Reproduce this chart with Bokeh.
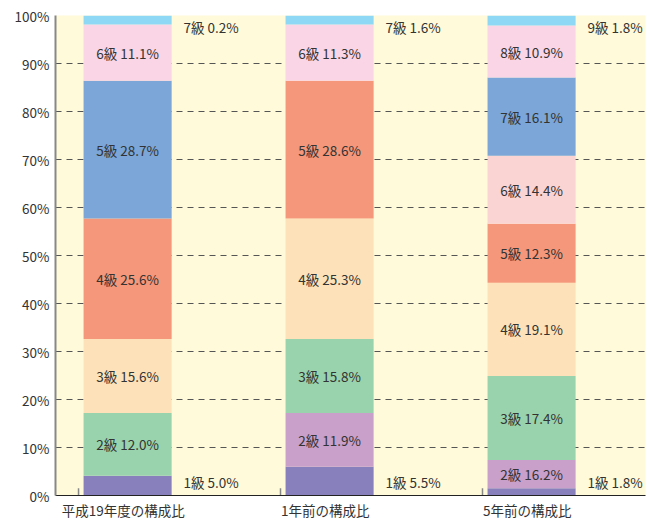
import numpy as np
from bokeh.plotting import figure
from bokeh.models import ColumnDataSource, FixedTicker, PrintfTickFormatter, Range1d
from bokeh.core.properties import value
from bokeh.embed import file_html
from bokeh.resources import INLINE

# ---- data ----
categories = ["平成19年度の構成比", "1年前の構成比", "5年前の構成比"]

grades1 = ["1級", "2級", "3級", "4級", "5級", "6級", "7級"]
labels1 = [5.0, 12.0, 15.6, 25.6, 28.7, 11.1, 0.2]
heights1 = [4.1, 13.1, 15.4, 25.1, 28.7, 11.7, 1.9]

grades2 = ["1級", "2級", "3級", "4級", "5級", "6級", "7級"]
labels2 = [5.5, 11.9, 15.8, 25.3, 28.6, 11.3, 1.6]
heights2 = [6.0, 11.2, 15.4, 25.1, 28.7, 11.7, 1.9]

grades3 = ["1級", "2級", "3級", "4級", "5級", "6級", "7級", "8級", "9級"]
labels3 = [1.8, 16.2, 17.4, 19.1, 12.3, 14.4, 16.1, 10.9, 1.8]
heights3 = [1.5, 5.9, 17.5, 19.4, 12.3, 14.2, 16.3, 10.8, 2.1]

C_DPURPLE = "#8880bc"
C_PURPLE = "#c8a0ca"
C_GREEN = "#99d3ad"
C_PEACH = "#fde2b9"
C_ORANGE = "#f5977a"
C_BLUE = "#7ba6d7"
C_PINK = "#f9d5e5"
C_LPINK = "#fad3d3"
C_CYAN = "#8ed8f6"

colors1 = [C_DPURPLE, C_GREEN, C_PEACH, C_ORANGE, C_BLUE, C_PINK, C_CYAN]
colors2 = [C_DPURPLE, C_PURPLE, C_GREEN, C_PEACH, C_ORANGE, C_PINK, C_CYAN]
colors3 = [C_DPURPLE, C_PURPLE, C_GREEN, C_PEACH, C_ORANGE, C_LPINK, C_BLUE, C_PINK, C_CYAN]

bars = [(grades1, labels1, heights1, colors1),
        (grades2, labels2, heights2, colors2),
        (grades3, labels3, heights3, colors3)]

FONT = value("Noto Sans CJK JP")
TXT = "#333333"

# frame: x from 55 to 645 px, y from 15 to 500 px
p = figure(width=650, height=522, output_backend="svg", toolbar_location=None,
           x_range=Range1d(-0.114, 2.807), y_range=Range1d(0, 100),
           min_border_left=55, min_border_right=5, min_border_top=15, min_border_bottom=22)
p.background_fill_color = "#fffad9"
p.border_fill_color = "white"
p.outline_line_color = None

p.xgrid.grid_line_color = None
p.ygrid.ticker = FixedTicker(ticks=list(range(0, 101, 10)))
p.ygrid.grid_line_color = "#555555"
p.ygrid.grid_line_dash = "6 5"
p.ygrid.grid_line_width = 1

bar_off = 0.243
bar_w = 0.436
for i, (g, lab, h, col) in enumerate(bars):
    h = np.array(h, dtype=float)
    top = np.cumsum(h)
    bottom = top - h
    n = len(h)
    src = ColumnDataSource(dict(x=[i + bar_off] * n, bottom=bottom, top=top, color=col))
    p.vbar(x="x", width=bar_w, bottom="bottom", top="top", fill_color="color",
           line_color=None, source=src)
    texts = [f"{gg} {v:.1f}%" for gg, v in zip(g, lab)]
    # inside labels (middle segments)
    mid = (bottom + top) / 2
    isrc = ColumnDataSource(dict(x=[i + bar_off] * (n - 2), y=mid[1:-1], t=texts[1:-1]))
    p.text(x="x", y="y", text="t", source=isrc, text_align="center", text_baseline="middle",
           text_font=FONT, text_font_size="13.5px", text_color=TXT)
    # outside labels (first and last)
    osrc = ColumnDataSource(dict(x=[i + 0.52] * 2, y=[2.8, 97.6], t=[texts[0], texts[-1]]))
    p.text(x="x", y="y", text="t", source=osrc, text_align="left", text_baseline="middle",
           text_font=FONT, text_font_size="13.5px", text_color=TXT)

# category boundary ticks (inward)
bx = list(range(len(categories)))
p.segment(x0=bx, x1=bx, y0=[0] * len(bx), y1=[1.5] * len(bx), line_color="#888888", line_width=1.5)

# axes
p.yaxis.ticker = FixedTicker(ticks=list(range(0, 101, 10)))
p.yaxis.formatter = PrintfTickFormatter(format="%d%%")
p.yaxis.axis_line_color = "#888888"
p.yaxis.axis_line_width = 2
p.yaxis.major_tick_line_color = None
p.yaxis.minor_tick_line_color = None
p.yaxis.major_tick_out = 0
p.yaxis.major_tick_in = 0
p.yaxis.major_label_standoff = 6
p.yaxis.major_label_text_font = "Noto Sans CJK JP"
p.yaxis.major_label_text_font_size = "13.5px"
p.yaxis.major_label_text_color = TXT

centers = [i + 0.222 for i in range(len(categories))]
p.xaxis.ticker = FixedTicker(ticks=centers)
p.xaxis.major_label_overrides = {c: name for c, name in zip(centers, categories)}
p.xaxis.axis_line_color = "#222222"
p.xaxis.axis_line_width = 1
p.xaxis.major_tick_line_color = None
p.xaxis.minor_tick_line_color = None
p.xaxis.major_tick_out = 0
p.xaxis.major_tick_in = 0
p.xaxis.major_label_standoff = 4
p.xaxis.major_label_text_font = "Noto Sans CJK JP"
p.xaxis.major_label_text_font_size = "13.5px"
p.xaxis.major_label_text_color = TXT

open("out.html", "w").write(file_html(p, INLINE))
